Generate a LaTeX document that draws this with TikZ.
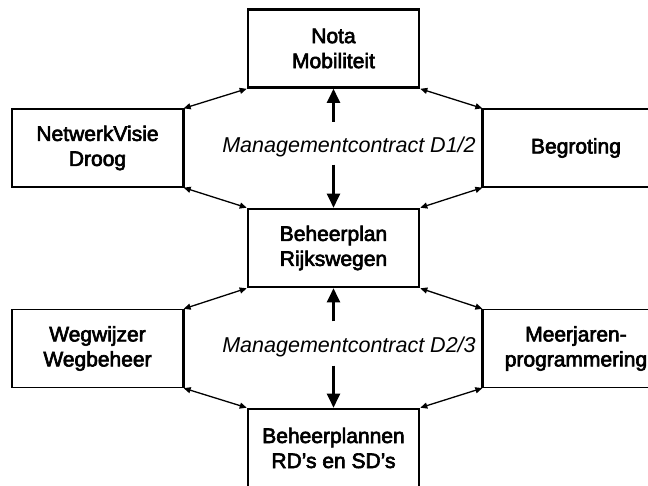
\documentclass[tikz,border=0pt]{standalone}
\usepackage{fontspec}
\setmainfont{Liberation Sans}
\newfontfamily\boxfont[FakeBold=3]{Liberation Sans}
\usetikzlibrary{arrows.meta}

\tikzset{
  doc/.style={draw, line width=1.3pt, minimum width=171pt, minimum height=78pt, inner sep=0pt,
    align=center, font=\fontsize{21}{25}\boxfont},
  plan/.style={doc, line width=2.6pt},
  contract/.style={font=\fontsize{21.5}{25}\selectfont\itshape},
  link/.style={line width=1.3pt, {Triangle[length=7pt,width=6pt]}-{Triangle[length=7pt,width=6pt]}},
  steer/.style={line width=2.3pt, -{Triangle[length=14pt,width=13pt]}},
}

\begin{document}
\begin{tikzpicture}[x=1pt, y=1pt]
\useasboundingbox (0,0) rectangle (648,485);
\clip (0,0) rectangle (648,485);

\node[plan] (nota) at (333.5,436.5) {Nota\\Mobiliteit};
\node[plan] (beheer) at (333.5,237) {Beheerplan\\Rijkswegen};
\node[plan] (plannen) at (333.5,37) {Beheerplannen\\RD’s en SD’s};

\node[doc] (visie) at (97.5,337) {NetwerkVisie\\Droog};
\node[doc, minimum width=186pt] (begroting) at (576,337) {Begroting};
\node[doc] (wegwijzer) at (97.5,136.5) {Wegwijzer\\Wegbeheer};
\node[doc, minimum width=186pt] (meerjaren) at (576,136.5) {Meerjaren-\\programmering};

\node[contract] (mc1) at (349,338) {Managementcontract D1/2};
\node[contract] (mc2) at (349,138) {Managementcontract D2/3};

% inner edges of the side boxes are heavier
\draw[line width=2pt] (visie.north east) -- (visie.south east);
\draw[line width=2pt] (begroting.north west) -- (begroting.south west);
\draw[line width=2pt] (wegwijzer.north east) -- (wegwijzer.south east);
\draw[line width=2pt] (meerjaren.north west) -- (meerjaren.south west);

\draw[link] (visie.north east) -- (nota.south west);
\draw[link] (begroting.north west) -- (nota.south east);
\draw[link] (visie.south east) -- (beheer.north west);
\draw[link] (begroting.south west) -- (beheer.north east);
\draw[link] (wegwijzer.north east) -- (beheer.south west);
\draw[link] (meerjaren.north west) -- (beheer.south east);
\draw[link] (wegwijzer.south east) -- (plannen.north west);
\draw[link] (meerjaren.south west) -- (plannen.north east);

\draw[steer] ([yshift=-33pt]nota.south) -- (nota.south);
\draw[steer] ([yshift=43pt]beheer.north) -- (beheer.north);
\draw[steer] ([yshift=-33pt]beheer.south) -- (beheer.south);
\draw[steer] ([yshift=42pt]plannen.north) -- (plannen.north);
\end{tikzpicture}
\end{document}
